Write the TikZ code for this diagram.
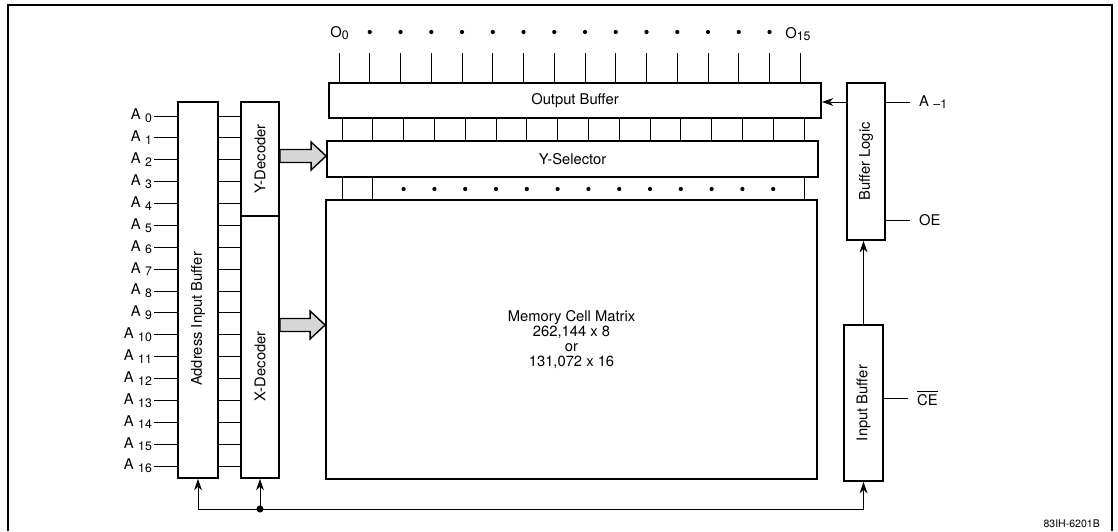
\documentclass[tikz,border=0pt]{standalone}
\usepackage{fontspec}
\setmainfont{TeX Gyre Heros}
\usetikzlibrary{positioning,arrows.meta,calc}
\newcommand{\sub}[1]{\raisebox{-0.35ex}{\fontsize{7}{8}\selectfont #1}}
\newcommand{\bigarrow}[2]{%
  \draw[fatarrow] ($(#1)+(0,-6.5)$) -- ($(#2)+(-15,-6.5)$) -- ($(#2)+(-15,-14)$) -- (#2)
    -- ($(#2)+(-15,14)$) -- ($(#2)+(-15,6.5)$) -- ($(#1)+(0,6.5)$) -- cycle;}
\tikzset{
  blk/.style={draw, line width=1.1pt, inner sep=0pt, align=center},
  wire/.style={line width=0.5pt},
  sig/.style={wire, -{Stealth[length=6.5pt,width=4.5pt]}},
  fatarrow/.style={line width=0.8pt, draw, fill=black!16},
  pinlbl/.style={inner sep=1pt},
  outlbl/.style={inner sep=5pt},
  bitdot/.style={circle, fill, inner sep=0pt, minimum size=2.4pt}
}

\begin{document}
\begin{tikzpicture}[x=0.02cm, y=-0.02cm, font=\fontsize{8.4}{8.6}\selectfont]
  \useasboundingbox (0,0) rectangle (1118,531);
  \draw[line width=1.1pt] (8,531) -- (8,5) -- (1112,5) -- (1112,531);

  % blocks
  \node[blk, minimum width=0.8cm, minimum height=7.52cm] (addr) at (198,290) {\rotatebox{90}{Address Input Buffer\hspace*{33pt}}};
  \node[blk, minimum width=0.76cm, minimum height=2.28cm] (ydec) at (260,159) {\rotatebox{90}{Y-Decoder}};
  \node[blk, minimum width=0.76cm, minimum height=5.24cm] (xdec) at (260,347) {\rotatebox{90}{X-Decoder\hspace*{22pt}}};
  \node[blk, minimum width=9.84cm, minimum height=0.7cm] (outbuf) at (575,100.5) {Output Buffer};
  \node[blk, minimum width=9.82cm, minimum height=0.72cm] (ysel) at (572.5,159) {Y-Selector};
  \node[blk, minimum width=9.82cm, minimum height=5.58cm] (mem) at (571.5,339.5) {Memory Cell Matrix\\262,144 x 8\\or\\131,072 x 16};
  \node[blk, minimum width=0.76cm, minimum height=3.14cm] (buflog) at (866,161.5) {\rotatebox{90}{Buffer Logic}};
  \node[blk, minimum width=0.78cm, minimum height=3.12cm] (inbuf) at (863.5,403) {\rotatebox{90}{Input Buffer}};

  % address lines
  \foreach \i in {0,...,16}{
    \pgfmathsetmacro\yy{116+21.875*\i}
    \ifnum\i<5 \def\dec{ydec}\else\def\dec{xdec}\fi
    \draw[wire] (addr.west |- 0,\yy) -- ++(-23,0) node[left, pinlbl] (a\i) {A\hspace{2.5pt}\sub{\i}};
    \draw[wire] (addr.east |- 0,\yy) -- (\dec.west |- 0,\yy);
  }

  % data outputs
  \foreach \k in {0,...,15}{
    \pgfmathsetmacro\xx{339+30.75*\k}
    \pgfmathsetmacro\xb{342+30.8*\k}
    \draw[wire] (outbuf.north -| \xx,0) -- (\xx,53);
    \draw[wire] (outbuf.south -| \xb,0) -- (ysel.north -| \xb,0);
  }
  \foreach \k in {1,...,14}
    \node[bitdot] (od\k) at ({339+30.75*\k},32) {};
  \node[anchor=base west, inner sep=0pt] (o0) at (330,37) {O\sub{0}};
  \node[anchor=base west, inner sep=0pt] (o15) at (785,38) {O\sub{15}};

  % selector to matrix
  \foreach \k in {0,1,15}{
    \pgfmathsetmacro\xb{342+30.8*\k}
    \draw[wire] (ysel.south -| \xb,0) -- (mem.north -| \xb,0);
  }
  \foreach \k in {2,...,14}
    \node[bitdot] (md\k) at ({342+30.8*\k},189) {};

  % decoder arrows
  \coordinate (ytail) at (ydec.east |- 0,156);
  \coordinate (ytip) at (ysel.west |- 0,156);
  \bigarrow{ytail}{ytip}
  \coordinate (xtail) at (xdec.east |- 0,325);
  \coordinate (xtip) at (mem.west |- 0,325);
  \bigarrow{xtail}{xtip}

  % control
  \draw[sig] (buflog.west |- 0,102) -- (outbuf.east |- 0,102);
  \draw[wire] (buflog.east |- 0,102) -- ++(24,0) node[right, outlbl] (am1) {A\hspace{2.5pt}\sub{--1}};
  \draw[wire] (buflog.east |- 0,220) -- ++(24,0) node[right, outlbl] (oe) {OE};
  \draw[wire] (inbuf.east |- 0,398) -- ++(24,0) node[right, outlbl] (ce) {$\overline{\mbox{CE}}$};
  \draw[sig] (inbuf.north) -- (inbuf.north |- buflog.south);

  % bus from chip enable
  \coordinate (busl) at (addr.south |- 0,509);
  \coordinate (busm) at (xdec.south |- 0,509);
  \coordinate (busr) at (inbuf.south |- 0,509);
  \draw[wire, {Stealth[length=6.5pt,width=4.5pt]}-{Stealth[length=6.5pt,width=4.5pt]}] (addr.south) -- (busl) -- (busr) -- (inbuf.south);
  \draw[sig] (busm) -- (xdec.south);
  \node[bitdot, minimum size=4pt] (busdot) at (busm) {};

  \node[anchor=east, font=\fontsize{6}{7}\selectfont] (figno) at (1106,524) {83IH-6201B};
\end{tikzpicture}
\end{document}
